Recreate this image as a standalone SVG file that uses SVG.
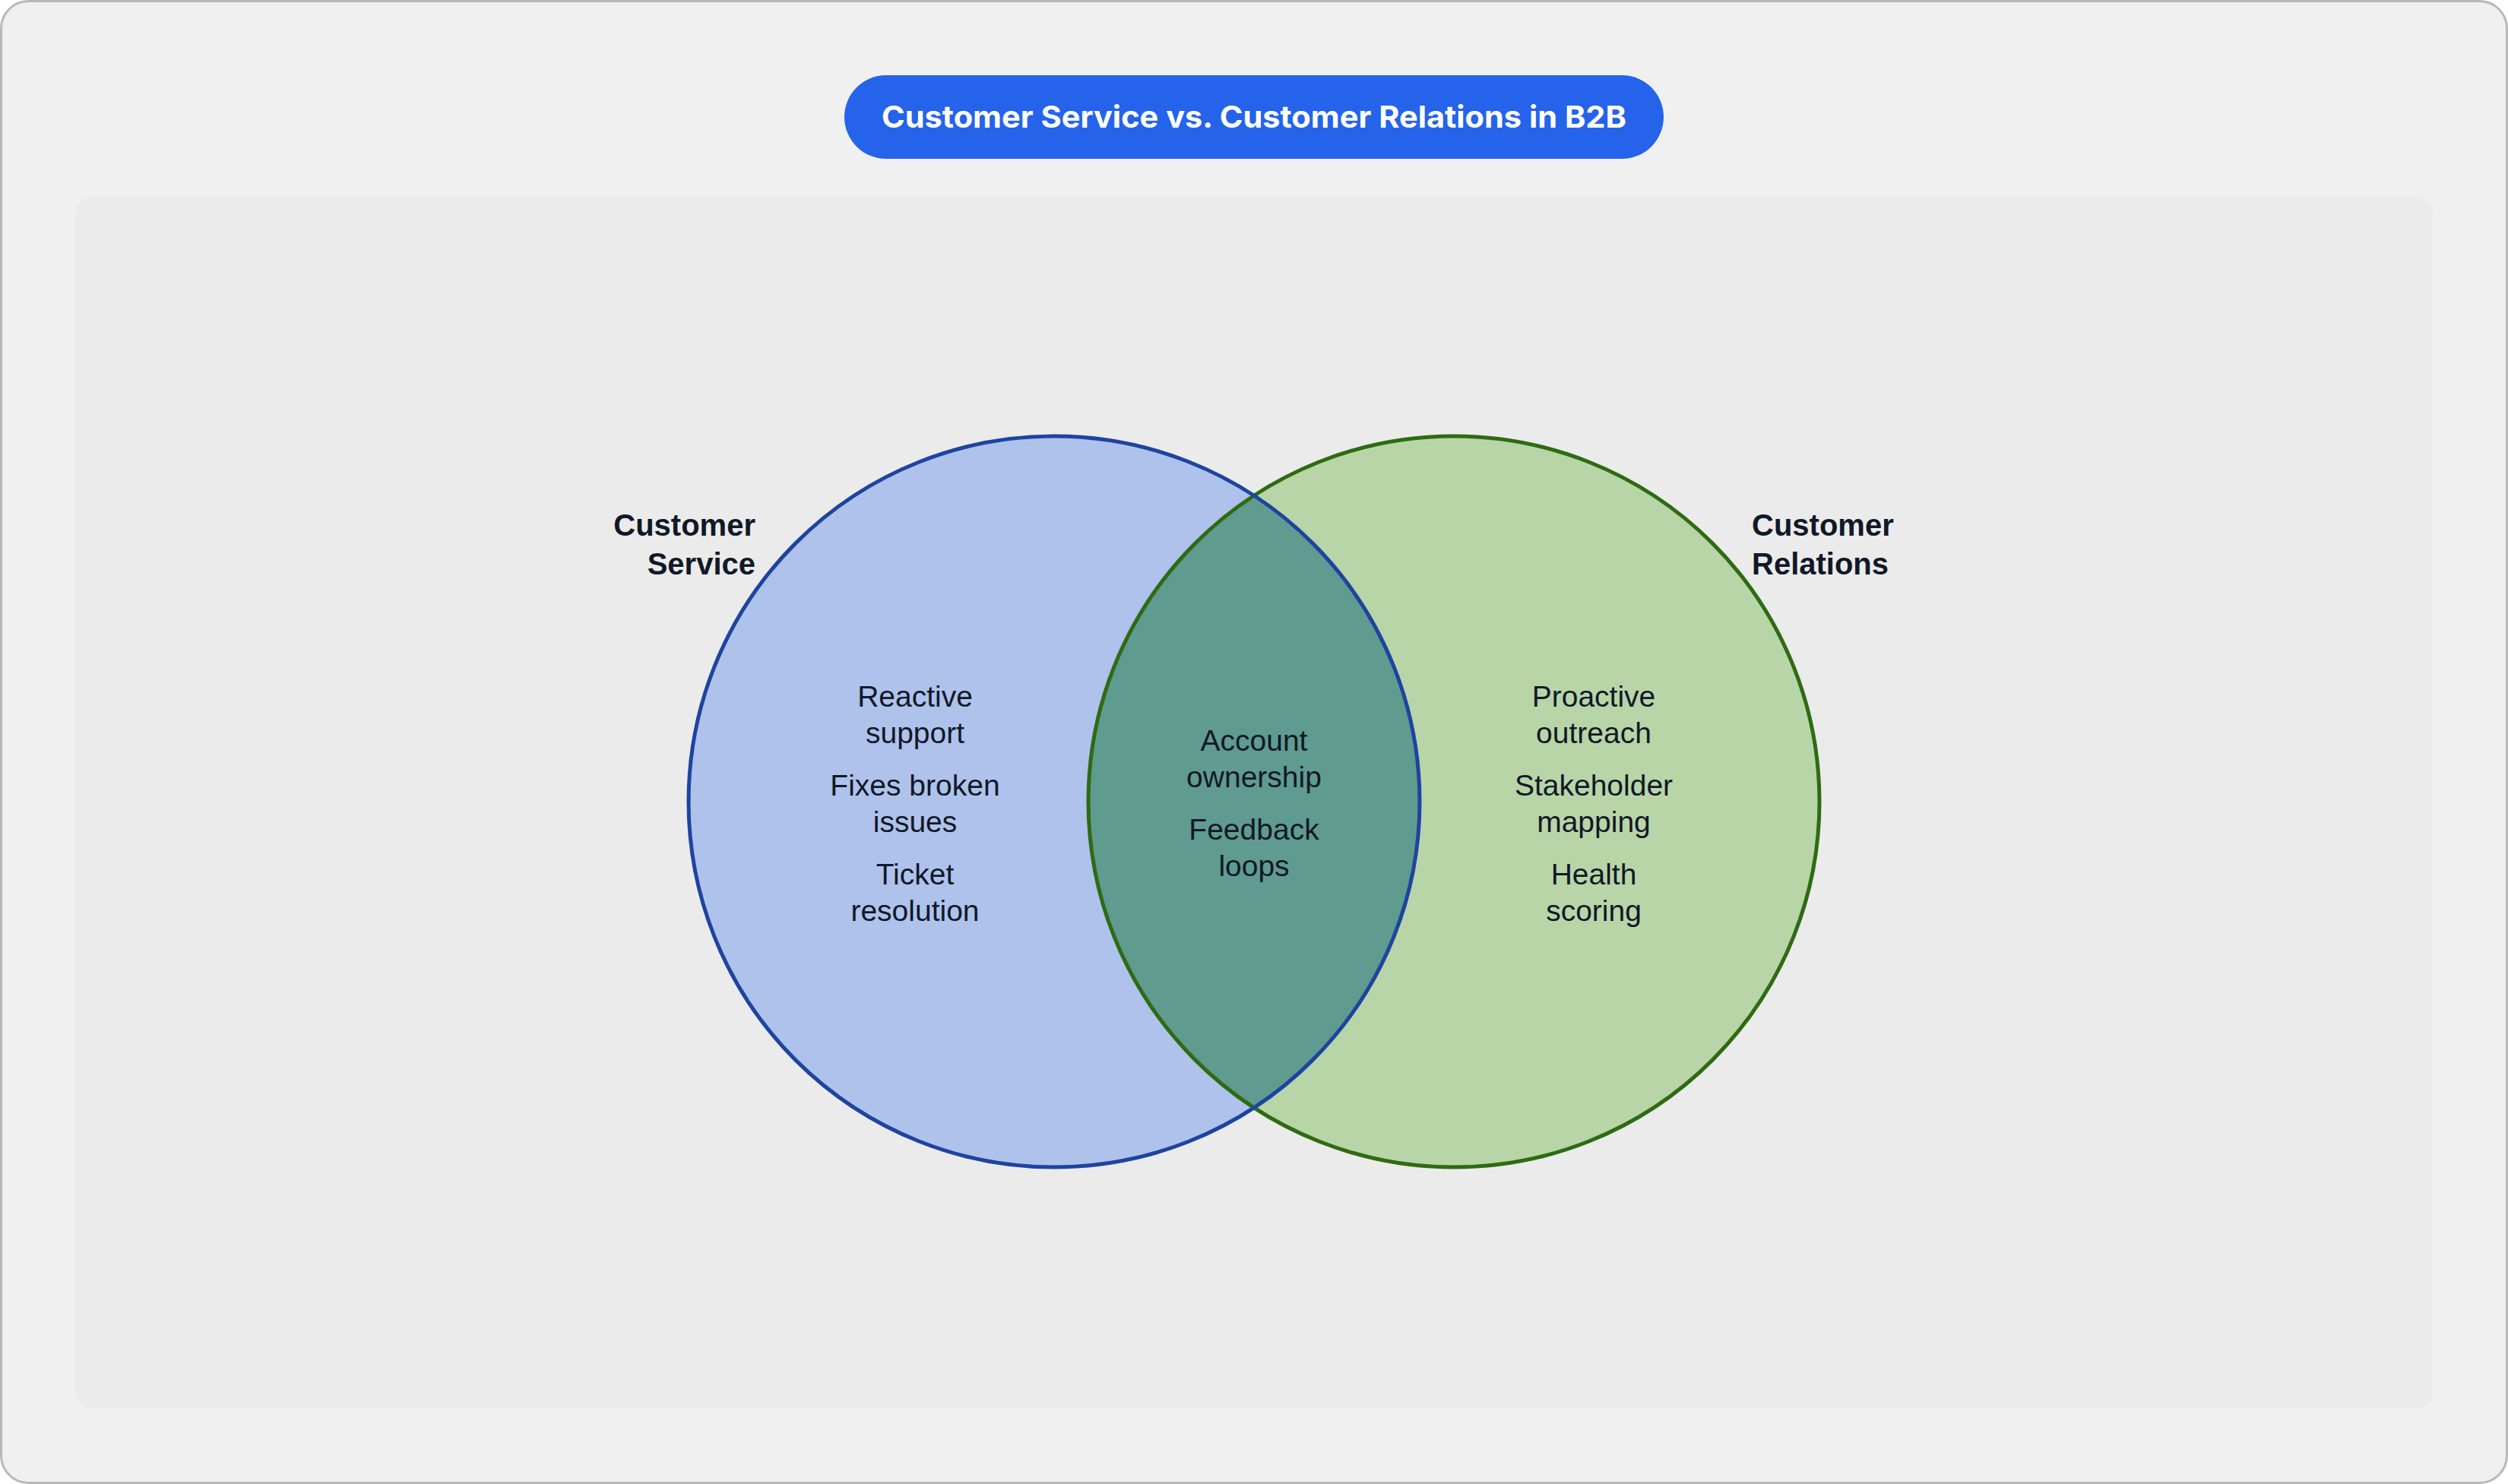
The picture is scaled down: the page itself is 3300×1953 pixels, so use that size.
<svg xmlns="http://www.w3.org/2000/svg" width="3300" height="1953" viewBox="0 0 3300 1953">
<style>
.t{font-family:"Liberation Sans",Arial,sans-serif;font-size:39px;fill:#111827;text-anchor:middle}
.h{font-family:"Liberation Sans",Arial,sans-serif;font-size:40px;font-weight:bold;fill:#111827}
</style>
<defs><clipPath id="cl"><circle cx="1387" cy="1055" r="481"/></clipPath></defs>
<rect x="1.5" y="1.5" width="3297" height="1950" rx="36" fill="#f0f0f0" stroke="#b8b8bc" stroke-width="3"/>
<rect x="99" y="259" width="3102" height="1595" rx="23" fill="#ebebeb"/>
<g id="title">
<rect x="1111" y="99" width="1078" height="110" rx="55" fill="#2563eb"/>
<text x="1650" y="168" font-family="Inter,'Liberation Sans',sans-serif" font-size="40" font-weight="bold" fill="#fff" text-anchor="middle" textLength="980" lengthAdjust="spacingAndGlyphs">Customer Service vs. Customer Relations in B2B</text>
</g>
<g id="service">
<circle cx="1387" cy="1055" r="481" fill="#aec2ec"/>
</g>
<g id="relations">
<circle cx="1913" cy="1055" r="481" fill="#b8d5a8"/>
</g>
<g id="overlap">
<circle cx="1913" cy="1055" r="481" fill="#5f9b8f" clip-path="url(#cl)"/>
</g>
<circle cx="1913" cy="1055" r="481" fill="none" stroke="#2e6b12" stroke-width="5"/>
<circle cx="1387" cy="1055" r="481" fill="none" stroke="#1e44a0" stroke-width="5"/>
<circle cx="1387" cy="1055" r="481" fill="none" stroke="#2c6a78" stroke-width="5" clip-path="url(#cr)" opacity="0"/>
<g id="labels">
<text class="h" x="994" y="705" text-anchor="end">Customer</text>
<text class="h" x="994" y="756" text-anchor="end">Service</text>
<text class="h" x="2305" y="705">Customer</text>
<text class="h" x="2305" y="756">Relations</text>
</g>
<g id="service-items">
<text class="t" x="1204" y="930">Reactive</text>
<text class="t" x="1204" y="978">support</text>
<text class="t" x="1204" y="1047">Fixes broken</text>
<text class="t" x="1204" y="1095">issues</text>
<text class="t" x="1204" y="1164">Ticket</text>
<text class="t" x="1204" y="1212">resolution</text>
</g>
<g id="overlap-items">
<text class="t" x="1650" y="988">Account</text>
<text class="t" x="1650" y="1036">ownership</text>
<text class="t" x="1650" y="1105">Feedback</text>
<text class="t" x="1650" y="1153">loops</text>
</g>
<g id="relations-items">
<text class="t" x="2097" y="930">Proactive</text>
<text class="t" x="2097" y="978">outreach</text>
<text class="t" x="2097" y="1047">Stakeholder</text>
<text class="t" x="2097" y="1095">mapping</text>
<text class="t" x="2097" y="1164">Health</text>
<text class="t" x="2097" y="1212">scoring</text>
</g>
</svg>
